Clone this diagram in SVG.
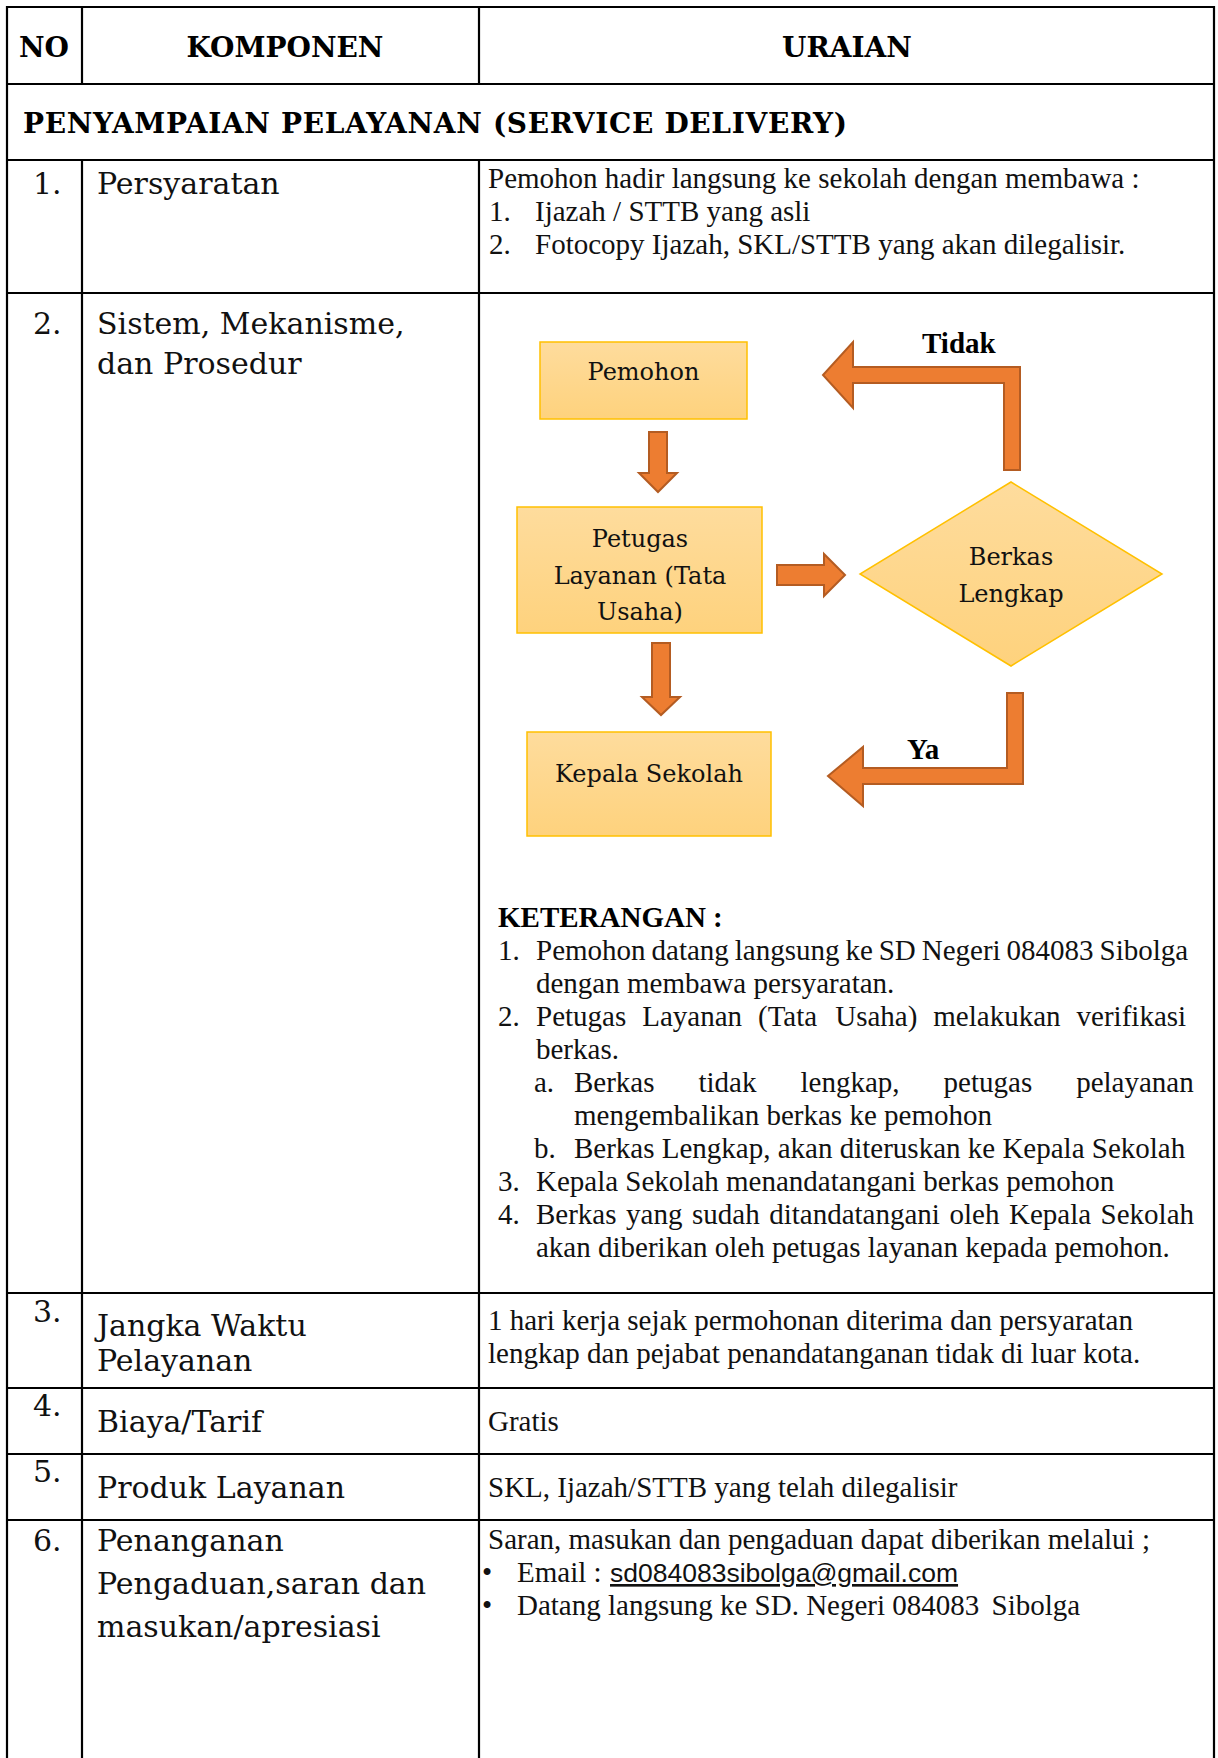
<svg xmlns="http://www.w3.org/2000/svg" width="1218" height="1758" viewBox="0 0 1218 1758">
<style>
.ln{stroke:#000;stroke-width:2.2;fill:none}
.hd{font-family:"DejaVu Serif",serif;font-weight:bold;font-size:28px;fill:#000}
.col{font-family:"DejaVu Serif",serif;font-size:30px;fill:#111}
.tx{font-family:"Liberation Serif","Times New Roman",serif;font-size:29px;fill:#111}
.txb{font-family:"Liberation Serif","Times New Roman",serif;font-size:29px;font-weight:bold;fill:#000}
.fc{font-family:"DejaVu Serif",serif;font-size:24px;fill:#111;text-anchor:middle}
.box{fill:url(#gBox);stroke:#FFC000;stroke-width:1.5}
.arr{fill:#ED7D31;stroke:#B45C22;stroke-width:2;stroke-linejoin:miter}
.mail{font-family:"Liberation Sans",Arial,sans-serif;font-size:26.5px;text-decoration:underline}
</style>
<defs>
<linearGradient id="gBox" x1="0" y1="0" x2="0" y2="1">
<stop offset="0" stop-color="#FEDC9D"/>
<stop offset="1" stop-color="#FED27D"/>
</linearGradient>
</defs>
<rect x="0" y="0" width="1218" height="1758" fill="#fff"/>

<g id="table">
<line class="ln" x1="6" y1="7" x2="1215" y2="7"/>
<line class="ln" x1="7" y1="6" x2="7" y2="1758"/>
<line class="ln" x1="1214" y1="6" x2="1214" y2="1758"/>
<line class="ln" x1="82" y1="7" x2="82" y2="84"/>
<line class="ln" x1="479" y1="7" x2="479" y2="84"/>
<line class="ln" x1="7" y1="84" x2="1214" y2="84"/>
<line class="ln" x1="7" y1="160" x2="1214" y2="160"/>
<line class="ln" x1="82" y1="160" x2="82" y2="1758"/>
<line class="ln" x1="479" y1="160" x2="479" y2="1758"/>
<line class="ln" x1="7" y1="293" x2="1214" y2="293"/>
<line class="ln" x1="7" y1="1293" x2="1214" y2="1293"/>
<line class="ln" x1="7" y1="1388" x2="1214" y2="1388"/>
<line class="ln" x1="7" y1="1454" x2="1214" y2="1454"/>
<line class="ln" x1="7" y1="1520" x2="1214" y2="1520"/>
</g>

<g id="header">
<text class="hd" x="44" y="57" text-anchor="middle">NO</text>
<text class="hd" x="285" y="57" text-anchor="middle">KOMPONEN</text>
<text class="hd" x="847" y="57" text-anchor="middle">URAIAN</text>
<text class="hd" x="23" y="133" font-size="29" textLength="824" lengthAdjust="spacing">PENYAMPAIAN PELAYANAN (SERVICE DELIVERY)</text>
</g>

<g id="row1">
<text class="col" x="33" y="194">1.</text>
<text class="col" x="97" y="194">Persyaratan</text>
<text class="tx" x="488" y="188">Pemohon hadir langsung ke sekolah dengan membawa :</text>
<text class="tx" x="489" y="221">1.</text>
<text class="tx" x="535" y="221">Ijazah / STTB yang asli</text>
<text class="tx" x="489" y="254">2.</text>
<text class="tx" x="535" y="254">Fotocopy Ijazah, SKL/STTB yang akan dilegalisir.</text>
</g>

<g id="row2">
<text class="col" x="33" y="334">2.</text>
<text class="col" x="97" y="334">Sistem, Mekanisme,</text>
<text class="col" x="97" y="374">dan Prosedur</text>
</g>

<g id="connectors">
<path id="c-pemohon-petugas" class="arr" d="M649,432 H667 V473 H677 L658,492 L639,473 H649 Z"/>
<path id="c-petugas-kepala" class="arr" d="M652,643 H670 V697 H680 L661,715 L642,697 H652 Z"/>
<path id="c-petugas-berkas" class="arr" d="M777,565 H824 V554 L845,575 L824,596 V585 H777 Z"/>
<path id="c-berkas-pemohon" class="arr" d="M1004,470 H1020 V367 H853 V342 L823,375 L853,408 V383 H1004 Z"/>
<path id="c-berkas-kepala" class="arr" d="M1007,693 H1023 V784 H863 V806 L828,776 L863,747 V768 H1007 Z"/>
<text class="txb" x="922" y="353">Tidak</text>
<text class="txb" x="907" y="759">Ya</text>
</g>

<g id="n-pemohon">
<rect class="box" x="540" y="342" width="207" height="77"/>
<text class="fc" x="643.5" y="380">Pemohon</text>
</g>
<g id="n-petugas">
<rect class="box" x="517" y="507" width="245" height="126"/>
<text class="fc" x="640" y="547">Petugas</text>
<text class="fc" x="640" y="584">Layanan (Tata</text>
<text class="fc" x="640" y="620">Usaha)</text>
</g>
<g id="n-kepala">
<rect class="box" x="527" y="732" width="244" height="104"/>
<text class="fc" x="649" y="782">Kepala Sekolah</text>
</g>
<g id="n-berkas">
<polygon class="box" points="1011,482 1162,574 1011,666 860,574"/>
<text class="fc" x="1011" y="565">Berkas</text>
<text class="fc" x="1011" y="602">Lengkap</text>
</g>

<g id="keterangan">
<text class="txb" x="498" y="927">KETERANGAN :</text>
<text class="tx" x="498" y="960">1.</text>
<text class="tx" x="536" y="960" word-spacing="-1.3">Pemohon datang langsung ke SD Negeri 084083 Sibolga</text>
<text class="tx" x="536" y="993">dengan membawa persyaratan.</text>
<text class="tx" x="498" y="1026">2.</text>
<text class="tx" y="1026"><tspan x="536">Petugas</tspan><tspan x="642.2">Layanan</tspan><tspan x="758">(Tata</tspan><tspan x="835.2">Usaha)</tspan><tspan x="933.3">melakukan</tspan><tspan x="1076.6">verifikasi</tspan></text>
<text class="tx" x="536" y="1059">berkas.</text>
<text class="tx" x="534" y="1092">a.</text>
<text class="tx" y="1092"><tspan x="574">Berkas</tspan><tspan x="698.5">tidak</tspan><tspan x="800.5">lengkap,</tspan><tspan x="943.6">petugas</tspan><tspan x="1076.2">pelayanan</tspan></text>
<text class="tx" x="574" y="1125">mengembalikan berkas ke pemohon</text>
<text class="tx" x="534" y="1158">b.</text>
<text class="tx" x="574" y="1158">Berkas Lengkap, akan diteruskan ke Kepala Sekolah</text>
<text class="tx" x="498" y="1191">3.</text>
<text class="tx" x="536" y="1191">Kepala Sekolah menandatangani berkas pemohon</text>
<text class="tx" x="498" y="1224">4.</text>
<text class="tx" x="536" y="1224" word-spacing="2.3">Berkas yang sudah ditandatangani oleh Kepala Sekolah</text>
<text class="tx" x="536" y="1257">akan diberikan oleh petugas layanan kepada pemohon.</text>
</g>

<g id="row3">
<text class="col" x="33" y="1322">3.</text>
<text class="col" x="97" y="1336">Jangka Waktu</text>
<text class="col" x="97" y="1371">Pelayanan</text>
<text class="tx" x="488" y="1330">1 hari kerja sejak permohonan diterima dan persyaratan</text>
<text class="tx" x="488" y="1363">lengkap dan pejabat penandatanganan tidak di luar kota.</text>
</g>

<g id="row4">
<text class="col" x="33" y="1416">4.</text>
<text class="col" x="97" y="1432">Biaya/Tarif</text>
<text class="tx" x="488" y="1431">Gratis</text>
</g>

<g id="row5">
<text class="col" x="33" y="1482">5.</text>
<text class="col" x="97" y="1498">Produk Layanan</text>
<text class="tx" x="488" y="1497">SKL, Ijazah/STTB yang telah dilegalisir</text>
</g>

<g id="row6">
<text class="col" x="33" y="1551">6.</text>
<text class="col" x="97" y="1551">Penanganan</text>
<text class="col" x="97" y="1594">Pengaduan,saran dan</text>
<text class="col" x="97" y="1637">masukan/apresiasi</text>
<text class="tx" x="488" y="1549">Saran, masukan dan pengaduan dapat diberikan melalui ;</text>
<text class="tx" x="482" y="1582">•</text>
<text class="tx" x="517" y="1582">Email : <tspan class="mail" x="610">sd084083sibolga@gmail.com</tspan></text>
<text class="tx" x="482" y="1615">•</text>
<text class="tx" x="517" y="1615">Datang langsung ke SD. Negeri 084083 <tspan dx="5">Sibolga</tspan></text>
</g>
</svg>
